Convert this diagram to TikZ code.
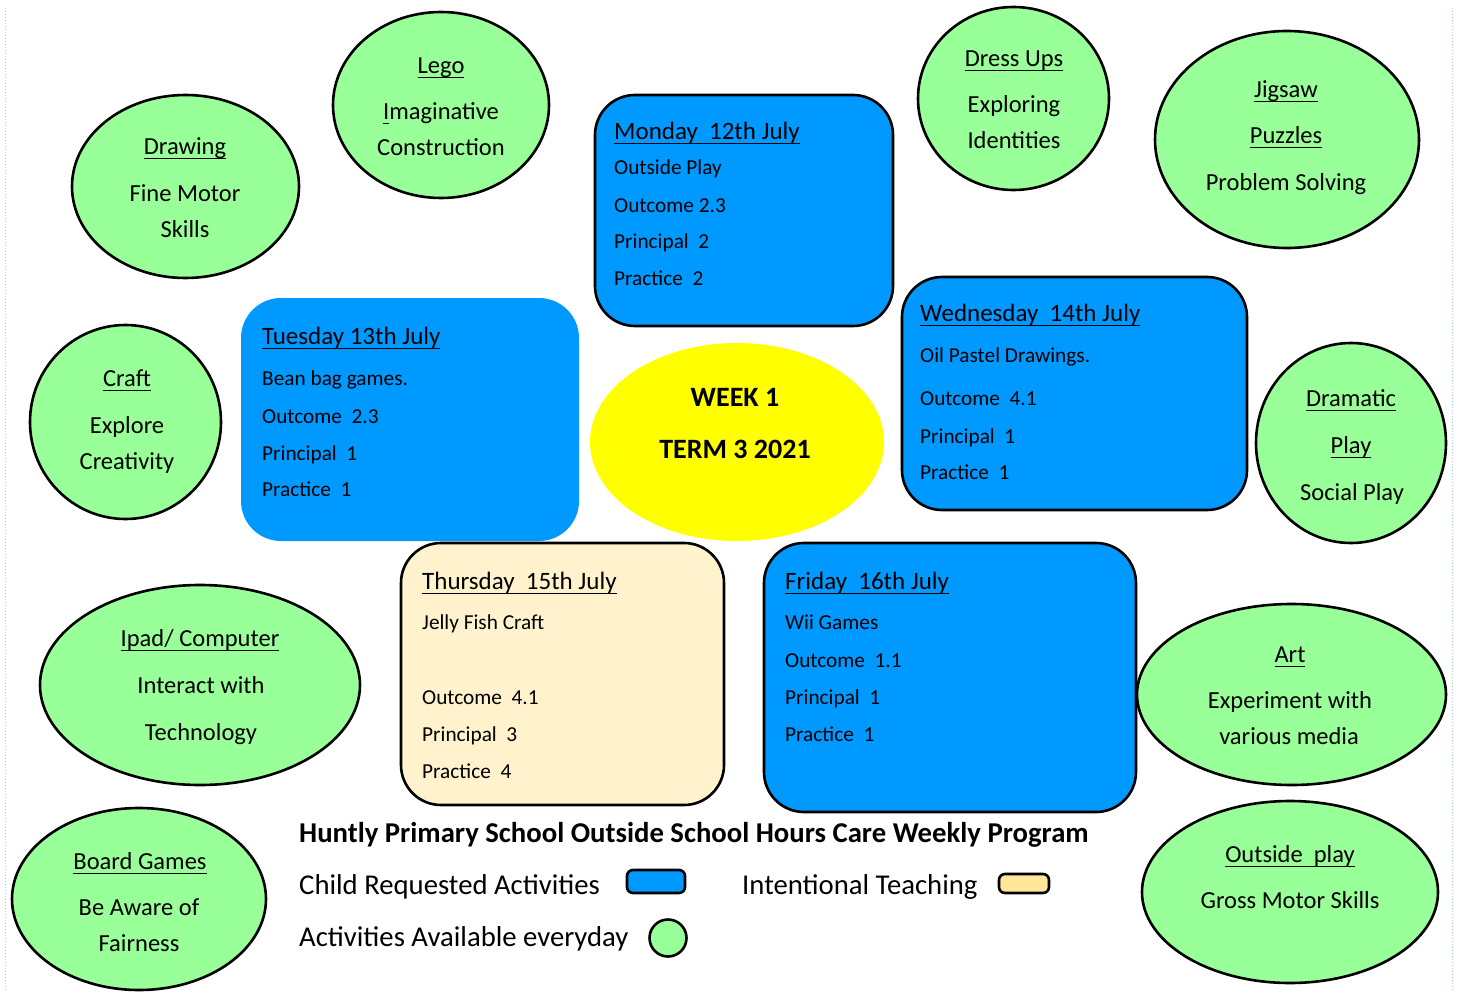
\documentclass[tikz,border=0pt]{standalone}
\usepackage{fontspec}
\setmainfont{Carlito}
\usetikzlibrary{shapes.geometric}
\newcommand\ulin[1]{\leavevmode\setbox0\hbox{#1}\rlap{\rule[-0.2em]{\wd0}{0.065em}}\box0}
\definecolor{actgreen}{HTML}{99FF99}
\definecolor{dayblue}{HTML}{0099FF}
\definecolor{cream}{HTML}{FFF2CC}
\definecolor{legcream}{HTML}{FFE699}
\definecolor{weekyellow}{HTML}{FFFF00}
\definecolor{marginblue}{HTML}{A8C8F0}
\tikzset{
  act/.style={ellipse, draw=black, line width=2.6pt, fill=actgreen, inner sep=0pt},
  daybox/.style={rectangle, rounded corners=40pt, draw=black, line width=2.6pt, fill=dayblue, inner sep=0pt},
  ctext/.style={anchor=mid, yshift=-6pt, inner sep=0pt, font=\fontsize{24.5}{28}\selectfont},
  dtitle/.style={anchor=mid west, yshift=-6pt, inner sep=0pt, font=\fontsize{25}{30}\selectfont},
  dtext/.style={anchor=mid west, yshift=-5.5pt, inner sep=0pt, font=\fontsize{21.3}{24}\selectfont},
  legtext/.style={anchor=mid west, yshift=-7pt, inner sep=0pt, font=\fontsize{28.7}{32}\selectfont},
  weektext/.style={anchor=mid, yshift=-7pt, inner sep=0pt, font=\fontsize{28}{32}\selectfont\bfseries},
}
\begin{document}
\begin{tikzpicture}[x=1pt,y=-1pt]
\useasboundingbox (0,0) rectangle (1461,992);
% margin guides
\coordinate (ml1) at (5,8);
\coordinate (ml2) at (5,992);
\coordinate (mr1) at (1452,8);
\coordinate (mr2) at (1452,992);
\draw[marginblue, line width=1pt, dotted] (ml1) -- (ml2);
\draw[marginblue, line width=1pt, dotted] (mr1) -- (mr2);

% activity ellipses
\node[act, minimum width=216, minimum height=186] (lego) at (441,105) {};
\node[act, minimum width=227, minimum height=183] (drawing) at (185.5,186.5) {};
\node[act, minimum width=191, minimum height=183] (dress) at (1013.5,98.5) {};
\node[act, minimum width=264, minimum height=217] (jigsaw) at (1287,139.5) {};
\node[act, minimum width=191, minimum height=194] (craft) at (125.5,422) {};
\node[act, minimum width=190, minimum height=200] (dramatic) at (1351,443) {};
\node[act, minimum width=320, minimum height=200] (ipad) at (200,685) {};
\node[act, minimum width=309, minimum height=181] (art) at (1291.5,694.5) {};
\node[act, minimum width=254, minimum height=182] (board) at (139,899) {};
\node[act, minimum width=296, minimum height=182] (outside) at (1290,892) {};

% week ellipse
\node[ellipse, fill=weekyellow, inner sep=0pt, minimum width=294, minimum height=198] (week) at (737,442) {};

% day boxes
\node[daybox, minimum width=298, minimum height=231] (mon) at (744,210.5) {};
\node[daybox, draw=none, minimum width=338, minimum height=243] (tue) at (410,419.5) {};
\node[daybox, minimum width=345, minimum height=233] (wed) at (1074.5,393.5) {};
\node[daybox, fill=cream, minimum width=323, minimum height=262] (thu) at (562.5,674) {};
\node[daybox, minimum width=372, minimum height=269] (fri) at (950,677.5) {};

% ellipse texts
\node[ctext] (lego1) at (441,65) {\ulin{Lego}};
\node[ctext] (lego2) at (441,111) {\ulin{I}maginative};
\node[ctext] (lego3) at (441,147) {Construction};
\node[ctext] (draw1) at (185,146) {\ulin{Drawing}};
\node[ctext] (draw2) at (185,193) {Fine Motor};
\node[ctext] (draw3) at (185,229) {Skills};
\node[ctext] (dress1) at (1014,58) {\ulin{Dress Ups}};
\node[ctext] (dress2) at (1014,104) {Exploring};
\node[ctext] (dress3) at (1014,140) {Identities};
\node[ctext] (jig1) at (1286,89) {\ulin{Jigsaw}};
\node[ctext] (jig2) at (1286,135) {\ulin{Puzzles}};
\node[ctext] (jig3) at (1286,182) {Problem Solving};
\node[ctext] (craft1) at (127,378) {\ulin{Craft}};
\node[ctext] (craft2) at (127,425) {Explore};
\node[ctext] (craft3) at (127,461) {Creativity};
\node[ctext] (dram1) at (1351,398) {\ulin{Dramatic}};
\node[ctext] (dram2) at (1351,445) {\ulin{Play}};
\node[ctext] (dram3) at (1352,492) {Social Play};
\node[ctext] (ipad1) at (200,638) {\ulin{Ipad/ Computer}};
\node[ctext] (ipad2) at (201,685) {Interact with};
\node[ctext] (ipad3) at (201,732) {Technology};
\node[ctext] (art1) at (1290,654) {\ulin{Art}};
\node[ctext] (art2) at (1290,700) {Experiment with};
\node[ctext] (art3) at (1289,736) {various media};
\node[ctext] (board1) at (140,861) {\ulin{Board Games}};
\node[ctext] (board2) at (139,907) {Be Aware of};
\node[ctext] (board3) at (139,943) {Fairness};
\node[ctext] (out1) at (1290,854) {\ulin{Outside\ \ play}};
\node[ctext] (out2) at (1290,900) {Gross Motor Skills};

% week text
\node[weektext] (week1) at (735,397) {WEEK 1};
\node[weektext] (week2) at (735,449) {TERM 3 2021};

% Monday
\node[dtitle] (mon0) at (614,131) {\ulin{Monday\ \ 12th July}};
\node[dtext] (mon1) at (614,167) {Outside Play};
\node[dtext] (mon2) at (614,205) {Outcome 2.3};
\node[dtext] (mon3) at (614,241) {Principal\ \ 2};
\node[dtext] (mon4) at (614,278) {Practice\ \ 2};
% Tuesday
\node[dtitle] (tue0) at (262,336) {\ulin{Tuesday 13th July}};
\node[dtext] (tue1) at (262,378) {Bean bag games.};
\node[dtext] (tue2) at (262,416) {Outcome\ \ 2.3};
\node[dtext] (tue3) at (262,453) {Principal\ \ 1};
\node[dtext] (tue4) at (262,489) {Practice\ \ 1};
% Wednesday
\node[dtitle] (wed0) at (920,313) {\ulin{Wednesday\ \ 14th July}};
\node[dtext] (wed1) at (920,355) {Oil Pastel Drawings.};
\node[dtext] (wed2) at (920,398) {Outcome\ \ 4.1};
\node[dtext] (wed3) at (920,436) {Principal\ \ 1};
\node[dtext] (wed4) at (920,472) {Practice\ \ 1};
% Thursday
\node[dtitle] (thu0) at (422,581) {\ulin{Thursday\ \ 15th July}};
\node[dtext] (thu1) at (422,622) {Jelly Fish Craft};
\node[dtext] (thu2) at (422,697) {Outcome\ \ 4.1};
\node[dtext] (thu3) at (422,734) {Principal\ \ 3};
\node[dtext] (thu4) at (422,771) {Practice\ \ 4};
% Friday
\node[dtitle] (fri0) at (785,581) {\ulin{Friday\ \ 16th July}};
\node[dtext] (fri1) at (785,622) {Wii Games};
\node[dtext] (fri2) at (785,660) {Outcome\ \ 1.1};
\node[dtext] (fri3) at (785,697) {Principal\ \ 1};
\node[dtext] (fri4) at (785,734) {Practice\ \ 1};

% legend
\node[anchor=mid west, yshift=-7pt, inner sep=0pt, font=\fontsize{28.7}{32}\selectfont\bfseries] (legtitle) at (299,833) {Huntly Primary School Outside School Hours Care Weekly Program};
\node[legtext] (leg1) at (299,885) {Child Requested Activities};
\node[rectangle, rounded corners=6pt, draw=black, line width=2.6pt, fill=dayblue, minimum width=58, minimum height=23, inner sep=0pt] (legblue) at (656,881.5) {};
\node[legtext] (leg2) at (742,885) {Intentional Teaching};
\node[rectangle, rounded corners=6pt, draw=black, line width=2.6pt, fill=legcream, minimum width=50, minimum height=19, inner sep=0pt] (legcream) at (1024,883.5) {};
\node[legtext] (leg3) at (299,937) {Activities Available everyday};
\node[circle, draw=black, line width=2.6pt, fill=actgreen, minimum size=37, inner sep=0pt] (leggreen) at (668,938) {};
\end{tikzpicture}
\end{document}
